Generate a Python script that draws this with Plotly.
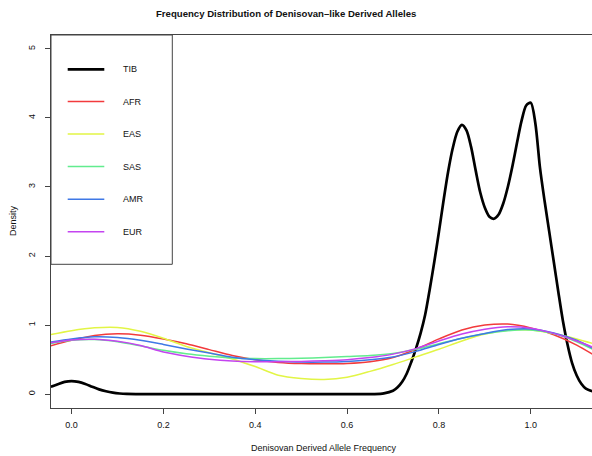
import plotly.graph_objects as go

# ---------------- data ----------------
series_names = ["TIB", "AFR", "EAS", "SAS", "AMR", "EUR"]
series_colors = ["#000000", "#F23A3C", "#E2F545", "#62EC8E", "#3F78E6", "#C444F0"]

tib_x = [-0.045, -0.03, -0.015, 0.0, 0.015, 0.03, 0.045, 0.06, 0.075, 0.09, 0.105, 0.12, 0.14,
         0.2, 0.3, 0.4, 0.5, 0.6, 0.66, 0.68, 0.70, 0.71, 0.72, 0.73, 0.74, 0.75, 0.76, 0.77,
         0.78, 0.79, 0.80, 0.81, 0.82, 0.83, 0.84, 0.85, 0.86, 0.87, 0.88, 0.89, 0.90, 0.91,
         0.92, 0.93, 0.94, 0.95, 0.96, 0.97, 0.98, 0.99, 1.00, 1.01, 1.02, 1.03, 1.04, 1.05,
         1.06, 1.07, 1.08, 1.09, 1.10, 1.11, 1.12, 1.135]
tib_y = [0.106, 0.145, 0.178, 0.19, 0.178, 0.148, 0.108, 0.07, 0.042, 0.022, 0.01, 0.004, 0.001,
         0.0, 0.0, 0.0, 0.0, 0.0, 0.002, 0.012, 0.05, 0.10, 0.18, 0.30, 0.47, 0.66, 0.88, 1.15,
         1.52, 1.92, 2.35, 2.80, 3.22, 3.56, 3.80, 3.90, 3.82, 3.58, 3.24, 2.92, 2.70, 2.57,
         2.54, 2.60, 2.76, 3.00, 3.30, 3.64, 3.96, 4.18, 4.22, 3.92, 3.28, 2.80, 2.36, 1.92,
         1.48, 1.06, 0.72, 0.45, 0.27, 0.15, 0.08, 0.04]

pop_x = [-0.045, 0.0, 0.05, 0.10, 0.15, 0.20, 0.25, 0.30, 0.35, 0.40, 0.45, 0.50, 0.55,
         0.60, 0.65, 0.70, 0.75, 0.80, 0.85, 0.90, 0.95, 1.00, 1.05, 1.10, 1.135]
afr_y = [0.70, 0.78, 0.85, 0.875, 0.855, 0.80, 0.73, 0.645, 0.56, 0.50, 0.46, 0.443, 0.44,
         0.445, 0.47, 0.53, 0.65, 0.80, 0.93, 1.00, 1.015, 0.96, 0.86, 0.71, 0.575]
eas_y = [0.865, 0.92, 0.96, 0.965, 0.91, 0.81, 0.69, 0.60, 0.51, 0.40, 0.275, 0.228, 0.213,
         0.245, 0.33, 0.43, 0.54, 0.65, 0.77, 0.87, 0.925, 0.93, 0.88, 0.80, 0.735]
sas_y = [0.735, 0.78, 0.79, 0.76, 0.70, 0.635, 0.585, 0.55, 0.525, 0.515, 0.515, 0.52, 0.53,
         0.545, 0.56, 0.59, 0.65, 0.73, 0.81, 0.875, 0.92, 0.93, 0.88, 0.76, 0.65]
amr_y = [0.755, 0.80, 0.83, 0.82, 0.78, 0.72, 0.655, 0.595, 0.535, 0.50, 0.478, 0.465, 0.465,
         0.475, 0.50, 0.54, 0.62, 0.72, 0.81, 0.88, 0.935, 0.945, 0.885, 0.78, 0.665]
eur_y = [0.745, 0.785, 0.795, 0.765, 0.705, 0.61, 0.55, 0.505, 0.48, 0.47, 0.47, 0.475, 0.485,
         0.50, 0.53, 0.58, 0.66, 0.77, 0.87, 0.94, 0.975, 0.955, 0.88, 0.77, 0.68]

x_ticks = [0.0, 0.2, 0.4, 0.6, 0.8, 1.0]
y_ticks = [0, 1, 2, 3, 4, 5]

title_text = "Frequency Distribution of Denisovan\u2013like Derived Alleles"
x_title = "Denisovan Derived Allele Frequency"
y_title = "Density"

# ---------------- layout geometry (pixels) ----------------
W, H = 592, 456
L, R, T, B = 51, 0, 35, 48
PW, PH = W - L - R, H - T - B


def px_x(px):
    return (px - L) / PW


def px_y(py):
    return (H - B - py) / PH


FONT = "Liberation Sans, Arial, Helvetica, sans-serif"
AXC = "#444444"

fig = go.Figure()

all_y = [tib_y, afr_y, eas_y, sas_y, amr_y, eur_y]
all_x = [tib_x] + [pop_x] * 5
widths = [2.7, 1.5, 1.5, 1.5, 1.5, 1.5]
for name, xs, ys, col, w in zip(series_names, all_x, all_y, series_colors, widths):
    fig.add_trace(go.Scatter(x=xs, y=ys, mode="lines", name=name,
                             line=dict(color=col, width=w, shape="spline", smoothing=0.8),
                             showlegend=False, hoverinfo="skip"))

shapes = []
annotations = []

# legend box
shapes.append(dict(type="rect", xref="paper", yref="paper",
                   x0=px_x(51), x1=px_x(172.3), y0=px_y(264.3), y1=px_y(35),
                   line=dict(color=AXC, width=1), fillcolor="rgba(0,0,0,0)", layer="above"))
leg_y = [69.3, 101.5, 134.0, 166.6, 199.3, 231.8]
for name, col, w, ly in zip(series_names, series_colors, widths, leg_y):
    shapes.append(dict(type="line", xref="paper", yref="paper",
                       x0=px_x(67.7), x1=px_x(104.3), y0=px_y(ly), y1=px_y(ly),
                       line=dict(color=col, width=w)))
    annotations.append(dict(text=name, xref="paper", yref="paper", x=px_x(120.5), y=px_y(ly),
                            xanchor="left", yanchor="middle", showarrow=False,
                            font=dict(family=FONT, size=9, color="#111111")))

# titles
annotations.append(dict(text="<b>" + title_text + "</b>", xref="paper", yref="paper",
                        x=px_x(286), y=px_y(14), xanchor="center", yanchor="middle",
                        showarrow=False, font=dict(family=FONT, size=9.6, color="#111111")))
annotations.append(dict(text=x_title, xref="paper", yref="paper",
                        x=px_x(323.8), y=px_y(447.7), xanchor="center", yanchor="middle",
                        showarrow=False, font=dict(family=FONT, size=9, color="#111111")))
annotations.append(dict(text=y_title, xref="paper", yref="paper",
                        x=px_x(13), y=px_y(221), xanchor="center", yanchor="middle",
                        textangle=-90, showarrow=False,
                        font=dict(family=FONT, size=9, color="#111111")))

fig.update_layout(
    width=W, height=H,
    margin=dict(l=L, r=R, t=T, b=B, pad=0),
    paper_bgcolor="white", plot_bgcolor="white",
    shapes=shapes, annotations=annotations,
    font=dict(family=FONT, size=9, color="#111111"),
    xaxis=dict(range=[-0.0447, 1.1333], tickvals=x_ticks, tickformat=".1f",
               showgrid=False, zeroline=False, showline=True, linecolor=AXC, linewidth=1,
               mirror=True, ticks="outside", ticklen=5, tickcolor=AXC, tickwidth=1,
               ticklabelstandoff=3, tickfont=dict(family=FONT, size=9, color="#111111")),
    yaxis=dict(range=[-0.2, 5.2], tickvals=y_ticks, tickangle=-90,
               showgrid=False, zeroline=False, showline=True, linecolor=AXC, linewidth=1,
               ticks="outside", ticklen=5, tickcolor=AXC, tickwidth=1,
               ticklabelstandoff=6, tickfont=dict(family=FONT, size=9, color="#111111")),
)

fig.write_html("out.html",
               config={"displayModeBar": False},
               post_script="document.body.style.margin='0';document.body.style.overflow='hidden';")
